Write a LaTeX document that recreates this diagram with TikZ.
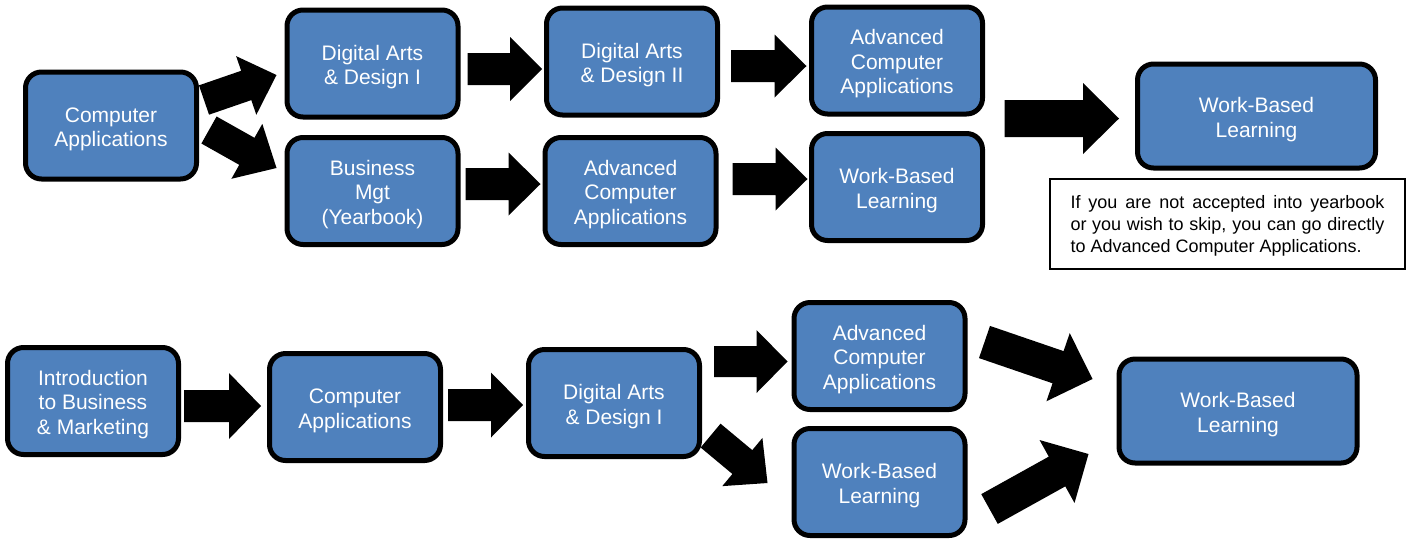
\documentclass[tikz,border=0pt]{standalone}
\usepackage{fontspec}
\setmainfont{Liberation Sans}
\usetikzlibrary{calc}
\definecolor{boxblue}{HTML}{4F81BD}
\newcommand\topfix{\rule{0pt}{22pt}}
% block arrow: #1 tail, #2 tip, #3 shaft half width, #4 head half width, #5 head length (pt)
\newcommand\blockarrow[5]{%
  \fill[black] let \p1=(#1), \p2=(#2),
    \n1={veclen(\x2-\x1,\y2-\y1)},
    \n2={(\x2-\x1)/\n1}, \n3={(\y2-\y1)/\n1}, \n4={\n1-#5} in
    ({\x1-(#3)*\n3},{\y1+(#3)*\n2}) --
    ({\x1+\n4*\n2-(#3)*\n3},{\y1+\n4*\n3+(#3)*\n2}) --
    ({\x1+\n4*\n2-(#4)*\n3},{\y1+\n4*\n3+(#4)*\n2}) --
    (\p2) --
    ({\x1+\n4*\n2+(#4)*\n3},{\y1+\n4*\n3-(#4)*\n2}) --
    ({\x1+\n4*\n2+(#3)*\n3},{\y1+\n4*\n3-(#3)*\n2}) --
    ({\x1+(#3)*\n3},{\y1-(#3)*\n2}) -- cycle;}
\tikzset{
  cbox/.style={draw=black, line width=5pt, fill=boxblue, rounded corners=16pt,
    minimum width=171pt, minimum height=107pt, inner sep=2pt, text=white,
    align=center, font=\fontsize{21}{24.5}\selectfont},
  widebox/.style={cbox, minimum width=238pt, minimum height=104pt},
  notebox/.style={draw=black, line width=1.5pt, fill=white, minimum width=355pt,
    minimum height=90pt, inner sep=0pt, align=left, text=black,
    font=\fontsize{18}{21.7}\selectfont}
}
\begin{document}
\begin{tikzpicture}[x=1pt,y=-1pt]
\useasboundingbox (0,0) rectangle (1407,542);
% top row
\node[cbox] (ca1) at (111,125.5) {\topfix Computer\\Applications};
\node[cbox] (dad1) at (372.5,63.5) {\topfix Digital Arts\\\& Design I};
\node[cbox] (bm) at (372.5,191) {\topfix Business\\Mgt\\(Yearbook)};
\node[cbox] (dad2) at (632,61.5) {\topfix Digital Arts\\\& Design II};
\node[cbox] (aca1) at (897,60.5) {\topfix Advanced\\Computer\\Applications};
\node[cbox] (aca2) at (630.5,191) {\topfix Advanced\\Computer\\Applications};
\node[cbox] (wbl1) at (897,187) {\topfix Work-Based\\Learning};
\node[widebox] (wblR) at (1256.5,116) {\topfix Work-Based\\Learning};
\node[notebox] (note) at (1227.5,224) {\rule{0pt}{17pt}\hbox to 314pt{If you are not accepted into yearbook}\\\hbox to 314pt{or you wish to skip, you can go directly}\\to Advanced Computer Applications.};
% bottom row
\node[cbox] (intro) at (93,401) {\topfix Introduction\\to Business\\\& Marketing};
\node[cbox] (ca2) at (355,407) {\topfix Computer\\Applications};
\node[cbox] (dad3) at (614,403) {\topfix Digital Arts\\\& Design I};
\node[cbox] (aca3) at (879.5,356) {\topfix Advanced\\Computer\\Applications};
\node[cbox] (wbl3) at (879.5,482) {\topfix Work-Based\\Learning};
\node[widebox] (wblF) at (1238,411) {\topfix Work-Based\\Learning};
% arrows top
\blockarrow{[shift={(5,-25.5)}]ca1.east}{[shift={(-8,11.5)}]dad1.west}{15.5}{31}{32}
\blockarrow{[shift={(10,4.5)}]ca1.east}{[shift={(-8,-23)}]bm.west}{15.5}{31.5}{34}
\blockarrow{[shift={(7,5.5)}]dad1.east}{[shift={(-2,7.5)}]dad2.west}{16}{32}{32}
\blockarrow{[shift={(11,4.5)}]dad2.east}{[shift={(-2.5,5.5)}]aca1.west}{16}{31.5}{32}
\blockarrow{[shift={(5,-7)}]bm.east}{[shift={(-2,-7)}]aca2.west}{16}{31.5}{32}
\blockarrow{[shift={(14,-12)}]aca2.east}{[shift={(-1.5,-8)}]wbl1.west}{16}{31.5}{32}
\blockarrow{[shift={(19.5,-5.25)}]$(aca1.east)!0.5!(wbl1.east)$}{[shift={(-16,2.5)}]wblR.west}{18.5}{35.5}{36}
% arrows bottom
\blockarrow{[shift={(3,5)}]intro.east}{[shift={(-6,-1)}]ca2.west}{16}{33}{32}
\blockarrow{[shift={(5,-2)}]ca2.east}{[shift={(-3,2)}]dad3.west}{16}{32.5}{32}
\blockarrow{[shift={(12,-41.5)}]dad3.east}{[shift={(-4,5.5)}]aca3.west}{15.5}{31.5}{31}
\blockarrow{[shift={(8.6,32.6)}]dad3.east}{[shift={(-24,1)}]wbl3.west}{15.5}{31.3}{32.7}
\blockarrow{[shift={(17,-14)}]aca3.east}{[shift={(-24,-32)}]wblF.west}{17}{36}{36.4}
\blockarrow{[shift={(22,27)}]wbl3.east}{[shift={(-28,43)}]wblF.west}{17}{36}{36}
\end{tikzpicture}
\end{document}
